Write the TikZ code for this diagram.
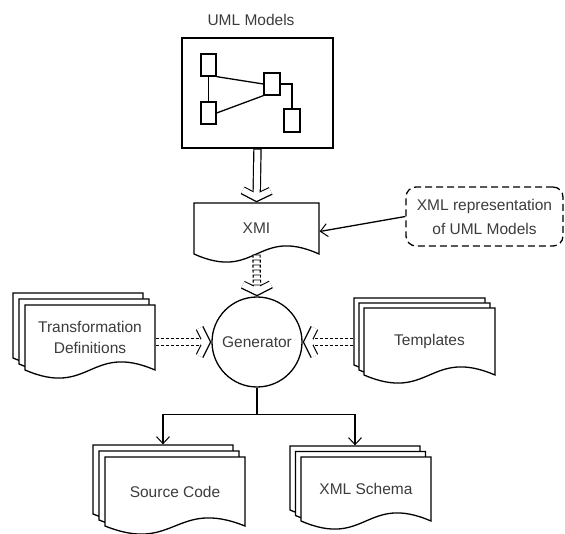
\documentclass[tikz,border=0pt]{standalone}
\usepackage{fontspec}
\setmainfont{Liberation Sans}
\usepackage{tikz}
\usetikzlibrary{arrows.meta, positioning, calc}
\definecolor{LabelGrey}{HTML}{3C3C3C}

% one paper sheet with a wavy bottom: centre #1, width #2, height #3, offset #4
\newcommand{\docsheet}[4]{%
  \draw[sheet] ($#1+(-#2/2-#4,-#3/2-#4)$) -| ($#1+(#2/2-#4,#3/2-#4)$) coordinate (sheetse)
    .. controls ($(sheetse)+(-#2/2,-28)$) and ($(sheetse)+(-#2/2,28)$) .. ($(sheetse)+(-#2,0)$) -- cycle;}
% three stacked sheets and their text: name, centre, width, height, step, text
\newcommand{\docstack}[6]{%
  \foreach \k in {2,1,0} {\docsheet{#2}{#3}{#4}{\k*#5}}
  \node[docnode, minimum width=#3pt, minimum height=#4pt] (#1) at #2 {#6};}

\begin{document}
\begin{tikzpicture}[x=1pt, y=-1pt, line width=1.3pt,
  every node/.style={font=\fontsize{15.5}{21}\selectfont, text=LabelGrey},
  sheet/.style={draw=black, fill=white},
  docnode/.style={inner sep=0pt, align=center},
  classbox/.style={draw, fill=white, minimum width=15pt, minimum height=22pt, inner sep=0pt},
  hollow/.style={line width=8.4pt, -{Straight Barb[length=7pt, width=28pt, line width=8.4pt]},
    postaction={draw=white, line width=6pt, shorten >=1.5pt, shorten <=0.8pt,
      -{Straight Barb[length=7pt, width=28pt, line width=6pt]}}},
  feed/.style={hollow, dash pattern=on 3pt off 2pt},
  pointer/.style={-{Straight Barb[length=7pt, width=13pt, line width=1pt]}}]
  \useasboundingbox (0,0) rectangle (565,534);

  % UML models
  \node (title) at (251,20) {UML Models};
  \node[draw, minimum width=151pt, minimum height=110pt, line width=1.6pt] (models) at (257.5,93) {};
  \node[classbox] (c1) at (208.5,65) {};
  \node[classbox, minimum width=16pt] (c2) at (272,84) {};
  \node[classbox] (c3) at (208.5,113) {};
  \node[classbox, minimum width=16pt, minimum height=23pt] (c4) at (292,120.5) {};
  \draw (c1.south) -- (c3.north);
  \draw (c1.south east) -- (c2.west);
  \draw (c3.east) -- (c2.south west);
  \draw (c2.east) -| (c4.north);

  % XMI and its note
  \docsheet{(256.5,228.5)}{125}{51}{0}
  \node[docnode, minimum width=125pt, minimum height=51pt] (xmi) at (256.5,228.5) {XMI};
  \node[draw, dash pattern=on 7pt off 4pt, rounded corners=10pt, minimum width=157pt, minimum height=59pt,
    align=center, font=\fontsize{15.5}{24}\selectfont] (note) at (484.5,216.5) {XML representation\\of UML Models};

  % Generator
  \node[draw, circle, fill=white, minimum size=90pt, inner sep=0pt] (gen) at (257,342) {Generator};

  % Inputs and outputs
  \docstack{trans}{(90,337.5)}{130}{65}{6}{Transformation\\Definitions}
  \docstack{tmpl}{(429.5,341.5)}{131}{67}{5}{Templates}
  \docstack{src}{(175,491.5)}{140}{69}{6}{Source Code}
  \docstack{xsd}{(366,489)}{130}{64}{5.5}{XML Schema}

  % Connectors
  \draw[hollow] (models.south) -- (xmi.north);
  \draw[feed] (xmi.south) -- (gen.north);
  \draw[pointer] (note.west) -- ([yshift=-3pt]xmi.east);
  \draw[feed] (trans.east |- gen.west) -- (gen.west);
  \draw[feed] ([xshift=-10pt]tmpl.west |- gen.east) -- (gen.east);
  \draw (gen.south) -- ++(0,27) coordinate (fork);
  \draw[pointer] (fork) -| ([shift={(-12,-12)}]src.north);
  \draw[pointer] (fork) -| ([shift={(-11,-11)}]xsd.north);
\end{tikzpicture}
\end{document}
